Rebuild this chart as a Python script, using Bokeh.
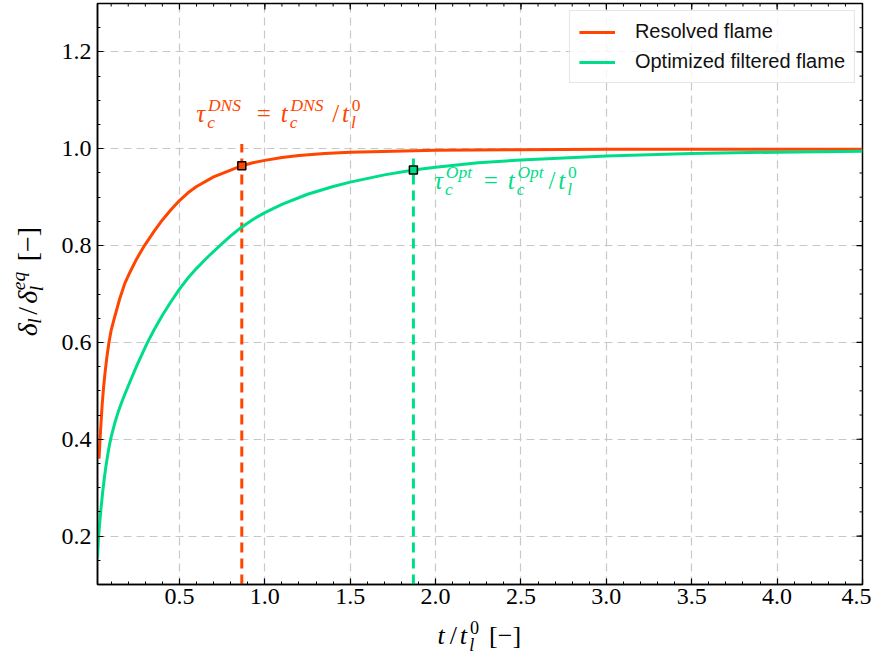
from math import pi
from bokeh.plotting import figure
from bokeh.layouts import row, column
from bokeh.models import Range1d, FixedTicker, Label, Legend, LegendItem
from bokeh.embed import file_html
from bokeh.resources import INLINE

# ---------------- data ----------------
t_resolved = [0.029, 0.034, 0.040, 0.047, 0.055, 0.065, 0.075, 0.087, 0.100,
              0.120, 0.150, 0.180, 0.210, 0.250, 0.295, 0.350, 0.400, 0.450,
              0.500, 0.550, 0.600, 0.700, 0.800, 0.865, 0.930, 1.000, 1.100,
              1.200, 1.350, 1.500, 1.750, 2.000, 2.500, 3.000, 3.500, 4.000,
              4.500]
d_resolved = [0.360, 0.395, 0.430, 0.470, 0.505, 0.540, 0.570, 0.600, 0.625,
              0.652, 0.690, 0.722, 0.745, 0.773, 0.800, 0.829, 0.853, 0.874,
              0.893, 0.909, 0.922, 0.942, 0.956, 0.965, 0.971, 0.976, 0.982,
              0.986, 0.990, 0.993, 0.995, 0.997, 0.998, 0.999, 0.999, 0.999,
              0.999]

t_optimized = [0.020, 0.025, 0.030, 0.040, 0.050, 0.060, 0.070, 0.080, 0.090,
               0.100, 0.120, 0.140, 0.160, 0.180, 0.200, 0.250, 0.310, 0.350,
               0.400, 0.450, 0.500, 0.550, 0.600, 0.670, 0.740, 0.800, 0.860,
               0.930, 1.000, 1.100, 1.250, 1.400, 1.500, 1.700, 1.870, 2.000,
               2.250, 2.500, 2.750, 3.000, 3.500, 4.000, 4.500]
d_optimized = [0.155, 0.190, 0.215, 0.255, 0.290, 0.320, 0.346, 0.368, 0.388,
               0.405, 0.432, 0.455, 0.475, 0.493, 0.510, 0.552, 0.598, 0.625,
               0.656, 0.684, 0.710, 0.733, 0.753, 0.778, 0.801, 0.820, 0.837,
               0.854, 0.868, 0.885, 0.906, 0.922, 0.931, 0.946, 0.956, 0.962,
               0.971, 0.977, 0.981, 0.985, 0.990, 0.993, 0.995]

tau_dns, delta_dns, top_dns = 0.865, 0.965, 1.010
tau_opt, delta_opt, top_opt = 1.870, 0.956, 0.980

x_major = [0.5, 1.0, 1.5, 2.0, 2.5, 3.0, 3.5, 4.0, 4.5]
x_minor = [round(0.1 * i, 1) for i in range(1, 46)]
y_major = [0.2, 0.4, 0.6, 0.8, 1.0, 1.2]
y_minor = [round(0.05 * i, 2) for i in range(2, 27)]

series_labels = ["Resolved flame", "Optimized filtered flame"]

ORANGE = "#FF4500"
GREEN = "#00DD88"
SERIF = "Liberation Serif"
SANS = "Liberation Sans"

X0, X1, Y0, Y1 = 0.02, 4.5, 0.1, 1.3

# ---------------- layout sizes ----------------
LEFT_W = 52          # strip holding the y-axis title
MAIN_W, MAIN_H = 819, 615
BOT_H = 40           # strip holding the x-axis title
MB_L, MB_R, MB_T, MB_B = 45, 9, 3, 31
FRAME_W = MAIN_W - MB_L - MB_R
FRAME_H = MAIN_H - MB_T - MB_B

# ---------------- main figure ----------------
p = figure(width=MAIN_W, height=MAIN_H, x_range=Range1d(X0, X1),
           y_range=Range1d(Y0, Y1), output_backend="svg",
           toolbar_location=None, min_border_left=MB_L,
           min_border_right=MB_R, min_border_top=MB_T,
           min_border_bottom=MB_B)
p.background_fill_color = "white"
p.border_fill_color = "white"
p.outline_line_color = "black"
p.outline_line_width = 1.5

xt = FixedTicker(ticks=x_major, minor_ticks=x_minor)
yt = FixedTicker(ticks=y_major, minor_ticks=y_minor)
p.xaxis.ticker = xt
p.yaxis.ticker = yt
p.xgrid.ticker = xt
p.ygrid.ticker = yt
p.xaxis.major_label_overrides = {v: f"{v:.1f}" for v in x_major}
p.yaxis.major_label_overrides = {v: f"{v:.1f}" for v in y_major}

for g in (p.xgrid, p.ygrid):
    g.grid_line_color = "#c8c8c8"
    g.grid_line_dash = "8 5"
    g.grid_line_width = 1.2

for ax in p.axis:
    ax.axis_line_color = "black"
    ax.axis_line_width = 1.5
    ax.major_tick_in = 6
    ax.major_tick_out = 0
    ax.minor_tick_in = 3
    ax.minor_tick_out = 0
    ax.major_tick_line_color = "black"
    ax.minor_tick_line_color = "black"
    ax.major_tick_line_width = 1.2
    ax.minor_tick_line_width = 1.0
    ax.major_label_text_font = SERIF
    ax.major_label_text_font_size = "24px"
    ax.major_label_text_color = "black"
p.xaxis.major_label_standoff = 4
p.yaxis.major_label_standoff = 6

# inward ticks on the top and right edges (lengths in screen pixels)
sx = FRAME_W / (X1 - X0)
sy = FRAME_H / (Y1 - Y0)
for ticks, ln, lw in ((x_major, 6, 1.2), (x_minor, 3, 1.0)):
    p.segment(x0=ticks, y0=[Y1] * len(ticks), x1=ticks,
              y1=[Y1 - ln / sy] * len(ticks), line_color="black",
              line_width=lw)
for ticks, ln, lw in ((y_major, 6, 1.2), (y_minor, 3, 1.0)):
    p.segment(x0=[X1] * len(ticks), y0=ticks, x1=[X1 - ln / sx] * len(ticks),
              y1=ticks, line_color="black", line_width=lw)

# ---------------- marks ----------------
p.segment(x0=[tau_dns], y0=[Y0], x1=[tau_dns], y1=[top_dns],
          line_color=ORANGE, line_width=3, line_dash="10 6")
p.segment(x0=[tau_opt], y0=[Y0], x1=[tau_opt], y1=[top_opt],
          line_color=GREEN, line_width=3, line_dash="10 6")

r1 = p.line(t_resolved, d_resolved, line_color=ORANGE, line_width=3)
r2 = p.line(t_optimized, d_optimized, line_color=GREEN, line_width=3)

p.scatter([tau_dns], [delta_dns], marker="square", size=8,
          fill_color=ORANGE, line_color="black", line_width=1.5)
p.scatter([tau_opt], [delta_opt], marker="square", size=8,
          fill_color=GREEN, line_color="black", line_width=1.5)

legend = Legend(items=[LegendItem(label=series_labels[0], renderers=[r1]),
                       LegendItem(label=series_labels[1], renderers=[r2])],
                location="top_right")
legend.label_text_font = SANS
legend.label_text_font_size = "20px"
legend.label_text_color = "#111111"
legend.glyph_width = 36
legend.glyph_height = 22
legend.label_height = 22
legend.label_standoff = 20
legend.spacing = 7
legend.padding = 9
legend.margin = 7
legend.border_line_color = "#cccccc"
legend.border_line_width = 1
legend.background_fill_color = "white"
legend.background_fill_alpha = 0.8
p.add_layout(legend)

# ---------------- math-like texts built from real text pieces ----------------
CMW = {'τ': 0.44, 'δ': 0.45, 't': 0.36, 'c': 0.43, 'l': 0.30, 'D': 0.83,
       'N': 0.80, 'S': 0.61, 'O': 0.76, 'p': 0.50, 'e': 0.47, 'q': 0.46,
       '0': 0.50, '=': 0.78, '/': 0.50, '[': 0.28, ']': 0.28, '−': 0.78,
       ' ': 0.33}
LIBW = {'=': 0.564, '/': 0.278, '[−]': 1.23}
MID = 0.3375   # (ascent - descent) / 2 of Liberation Serif, in em


def tok_w(s):
    return sum(CMW.get(ch, 0.5) for ch in s)


def layout(tokens):
    pieces = []
    x = 0.0
    for tk in tokens:
        kind = tk[0]
        if kind == "b":
            _, s, it = tk
            w = tok_w(s)
            pad = (w - LIBW[s]) / 2 if s in LIBW else 0.0
            pieces.append((s, x + pad, 0.0, 1.0, it))
            x += w
        elif kind == "sp":
            x += tk[1]
        else:
            _, sub, sub_it, sup, sup_it = tk
            w = 0.0
            if sub:
                dy = -0.25 if sup else -0.17
                pieces.append((sub, x, dy, 0.7, sub_it))
                w = max(w, 0.7 * tok_w(sub))
            if sup:
                pieces.append((sup, x + 0.03, 0.42, 0.7, sup_it))
                w = max(w, 0.7 * tok_w(sup) + 0.03)
            x += w
    return pieces, x


def add_math(fig, tokens, x, y, size, color, vertical=False, center=False):
    """(x, y) is the baseline start (or baseline centre if center=True)."""
    pieces, total = layout(tokens)
    shift = -total * size / 2 if center else 0.0
    for s, xe, ye, sc, it in pieces:
        along = xe * size + shift
        perp = ye * size + MID * size * sc
        if vertical:
            xo, yo, ang = -perp, along, pi / 2
        else:
            xo, yo, ang = along, perp, 0.0
        fig.add_layout(Label(x=x, y=y, x_offset=xo, y_offset=yo, angle=ang,
                             text=s, text_font=SERIF,
                             text_font_size=f"{size * sc:.1f}px",
                             text_font_style="italic" if it else "normal",
                             text_color=color, text_align="left",
                             text_baseline="middle"))


dns_tokens = [("b", "τ", True), ("ss", "c", True, "DNS", True), ("sp", 0.28),
              ("b", "=", False), ("sp", 0.28), ("b", "t", True),
              ("ss", "c", True, "DNS", True), ("b", "/", False),
              ("b", "t", True), ("ss", "l", True, "0", False)]
opt_tokens = [("b", "τ", True), ("ss", "c", True, "Opt", True), ("sp", 0.28),
              ("b", "=", False), ("sp", 0.28), ("b", "t", True),
              ("ss", "c", True, "Opt", True), ("b", "/", False),
              ("b", "t", True), ("ss", "l", True, "0", False)]
xlab_tokens = [("b", "t", True), ("b", "/", False), ("b", "t", True),
               ("ss", "l", True, "0", False), ("sp", 0.33),
               ("b", "[−]", False)]
ylab_tokens = [("b", "δ", True), ("ss", "l", True, None, False),
               ("b", "/", False), ("b", "δ", True),
               ("ss", "l", True, "eq", True), ("sp", 0.33),
               ("b", "[−]", False)]

add_math(p, dns_tokens, 0.598, 1.056, 25, ORANGE)
add_math(p, opt_tokens, 1.991, 0.918, 25, GREEN)


# ---------------- strips for the two axis titles ----------------
def strip(w, h):
    f = figure(width=w, height=h, x_range=Range1d(0, w), y_range=Range1d(0, h),
               output_backend="svg", toolbar_location=None, min_border=0,
               x_axis_location=None, y_axis_location=None)
    f.grid.visible = False
    f.outline_line_color = None
    f.background_fill_color = "white"
    f.border_fill_color = "white"
    return f


left_strip = strip(LEFT_W, MAIN_H)
add_math(left_strip, ylab_tokens, 36, MAIN_H - (MB_T + FRAME_H / 2), 28,
         "black", vertical=True, center=True)

bottom_strip = strip(LEFT_W + MAIN_W, BOT_H)
add_math(bottom_strip, xlab_tokens, LEFT_W + MB_L + FRAME_W / 2, 11, 26,
         "black", center=True)

page = column(row(left_strip, p, spacing=0), bottom_strip, spacing=0)

open("out.html", "w").write(file_html(page, INLINE))
